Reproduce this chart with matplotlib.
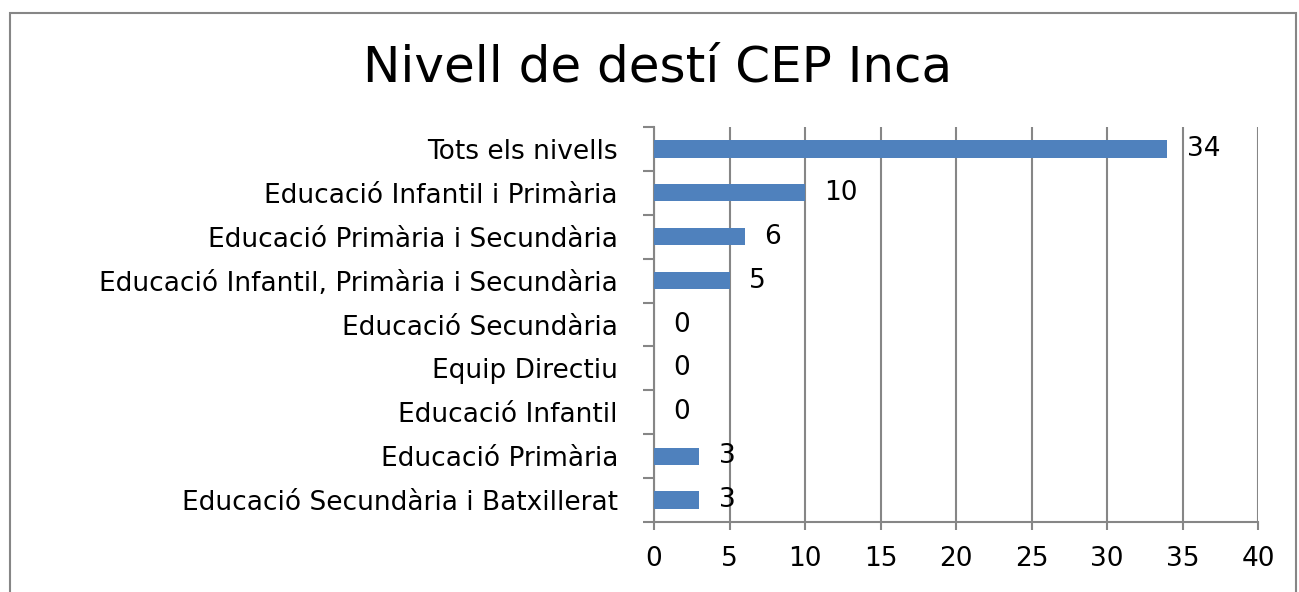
import matplotlib
matplotlib.use("Agg")
import matplotlib.pyplot as plt
from matplotlib.patches import Rectangle

# categories listed top to bottom as in the chart
categories = [
    "Tots els nivells",
    "Educació Infantil i Primària",
    "Educació Primària i Secundària",
    "Educació Infantil, Primària i Secundària",
    "Educació Secundària",
    "Equip Directiu",
    "Educació Infantil",
    "Educació Primària",
    "Educació Secundària i Batxillerat",
]
values = [34, 10, 6, 5, 0, 0, 0, 3, 3]
x_ticks = [0, 5, 10, 15, 20, 25, 30, 35, 40]

fig = plt.figure(figsize=(12.99, 5.92), dpi=100)
ax = fig.add_axes([654 / 1299, 1 - 522 / 592, (1258 - 654) / 1299, (522 - 127) / 592])

# outer chart border
fig.patches.append(Rectangle((10 / 1299, -0.1), (1296 - 10) / 1299, 1 - 13 / 592 + 0.1,
                             transform=fig.transFigure, fill=False,
                             edgecolor="#868686", linewidth=1.5))

pos = list(range(len(categories)))[::-1]
ax.barh(pos, values, height=0.39, color="#4F81BD", zorder=3)

for p, v in zip(pos, values):
    ax.annotate(str(v), (v, p), xytext=(14, 0), textcoords="offset points",
                ha="left", va="center", fontsize=19, color="black")

ax.set_xlim(0, 40)
ax.set_ylim(-0.5, len(categories) - 0.5)
ax.set_xticks(x_ticks)
ax.set_yticks(pos)
ax.set_yticklabels(categories, fontsize=19)
ax.tick_params(axis="x", labelsize=19, length=6, width=1.5, color="#868686", pad=11)
ax.grid(axis="x", color="#868686", linewidth=1.5, zorder=0)
ax.set_axisbelow(True)

for side in ["top", "right"]:
    ax.spines[side].set_visible(False)
for side in ["left", "bottom"]:
    ax.spines[side].set_color("#868686")
    ax.spines[side].set_linewidth(1.5)
# y ticks sit on category boundaries
ax.set_yticks([p - 0.5 for p in range(len(categories) + 1)], minor=True)
ax.tick_params(axis="y", which="major", length=0, pad=26)
ax.tick_params(axis="y", which="minor", length=8, width=1.5, color="#868686")

fig.text(658 / 1299, 1 - 68 / 592, "Nivell de destí CEP Inca", ha="center", va="center",
         fontsize=36, color="black")

fig.savefig("out.png", dpi=100)
